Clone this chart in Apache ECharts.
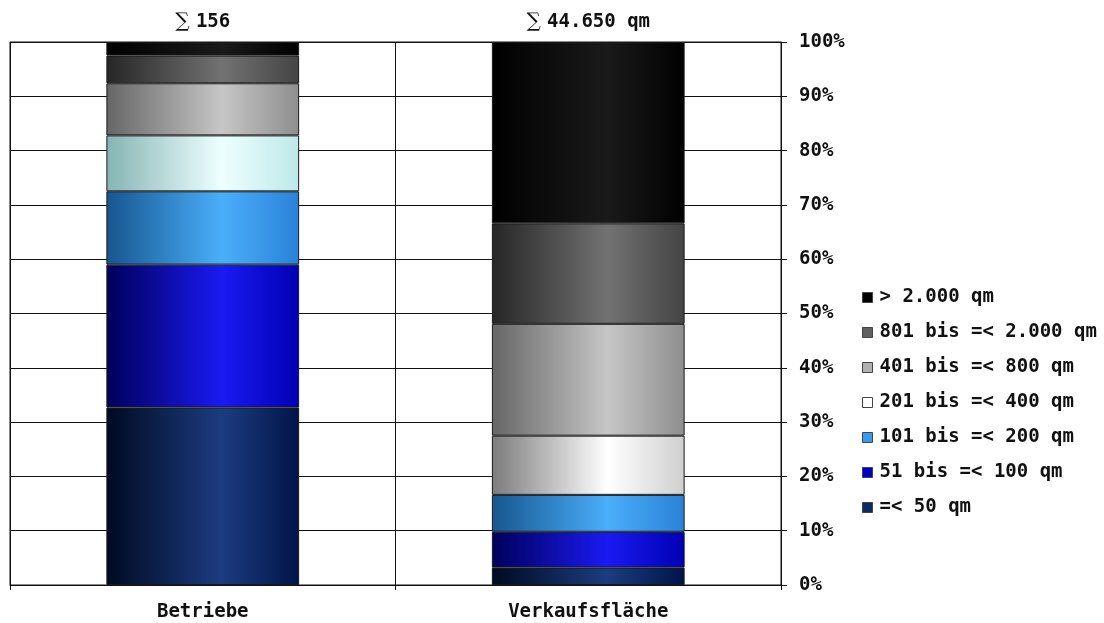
<!DOCTYPE html>
<html>
<head>
<meta charset="utf-8">
<script src="https://cdn.jsdelivr.net/npm/echarts@6/dist/echarts.min.js"></script>
<style>
html,body{margin:0;padding:0;background:#fff;}
#c{width:1104px;height:623px;}
</style>
</head>
<body>
<div id="c"></div>
<script>
var categories = ['Betriebe', 'Verkaufsfläche'];
var totals = ['156', '44.650 qm'];
var classes = ['=< 50 qm', '51 bis =< 100 qm', '101 bis =< 200 qm', '201 bis =< 400 qm', '401 bis =< 800 qm', '801 bis =< 2.000 qm', '> 2.000 qm'];
var betriebe = [32.7, 26.3, 13.5, 10.3, 9.6, 5.1, 2.5];
var verkaufsflaeche = [3.2, 6.6, 6.8, 10.9, 20.6, 18.5, 33.4];
var yTicks = [0, 10, 20, 30, 40, 50, 60, 70, 80, 90, 100];

var legendColors = ['#0d2a66', '#0000c8', '#3a9af0', '#ffffff', '#b0b0b0', '#606060', '#000000'];
// [left shade, highlight, right shade] per class, per category
var shades = [
  [['#000a22', '#1c3c80', '#001448'], ['#000a22', '#1c3c80', '#001448']],
  [['#00005a', '#1a1af2', '#0000b4'], ['#00005a', '#1a1af2', '#0000b4']],
  [['#16568f', '#4aaefa', '#2a82d8'], ['#16568f', '#4aaefa', '#2a82d8']],
  [['#86b4b4', '#eeffff', '#bde8e8'], ['#7c7c7c', '#ffffff', '#cfcfcf']],
  [['#666666', '#c6c6c6', '#8e8e8e'], ['#666666', '#c6c6c6', '#8e8e8e']],
  [['#262626', '#727272', '#444444'], ['#262626', '#727272', '#444444']],
  [['#000000', '#1a1a1a', '#000000'], ['#000000', '#1a1a1a', '#000000']]
];

function grad(s) {
  return new echarts.graphic.LinearGradient(0, 0, 1, 0, [
    {offset: 0, color: s[0]},
    {offset: 0.6, color: s[1]},
    {offset: 1, color: s[2]}
  ]);
}

var FONT = 'DejaVu Sans Mono';
var series = classes.map(function (name, i) {
  var vals = [betriebe[i], verkaufsflaeche[i]];
  var s = {
    name: name,
    type: 'bar',
    stack: 'total',
    barWidth: '50%',
    data: vals.map(function (v, j) {
      return {value: v, itemStyle: {color: grad(shades[i][j])}};
    }),
    itemStyle: {borderColor: '#1a1a1a', borderWidth: 1},
    emphasis: {disabled: true}
  };
  if (i === classes.length - 1) {
    s.label = {
      show: true,
      position: 'top',
      distance: 10,
      formatter: function (p) { return '{s|∑} {t|' + totals[p.dataIndex] + '}'; },
      rich: {
        s: {fontFamily: 'DejaVu Serif', fontWeight: 'normal', fontSize: 20, color: '#111', padding: [0, 3, 0, 0]},
        t: {fontFamily: FONT, fontWeight: 'bold', fontSize: 19, color: '#111'}
      }
    };
  }
  return s;
});

var chart = echarts.init(document.getElementById('c'));
chart.setOption({
  animation: false,
  backgroundColor: '#fff',
  grid: {left: 10, right: 323, top: 42, bottom: 38, show: true, borderColor: '#111', borderWidth: 1},
  legend: {
    orient: 'vertical',
    left: 857,
    top: 283,
    itemWidth: 10,
    itemHeight: 10,
    itemGap: 16,
    textStyle: {fontFamily: FONT, fontWeight: 'bold', fontSize: 19, color: '#111', padding: [0, 0, 0, 2]},
    data: classes.slice().reverse().map(function (n) {
      var idx = classes.indexOf(n);
      return {name: n, icon: 'rect', itemStyle: {color: legendColors[idx], borderColor: '#444', borderWidth: 1}};
    })
  },
  xAxis: {
    type: 'category',
    data: categories,
    boundaryGap: true,
    axisLine: {show: true, lineStyle: {color: '#111', width: 1}},
    axisTick: {show: true, length: 5, lineStyle: {color: '#111'}},
    splitLine: {show: true, lineStyle: {color: '#111', width: 1}},
    axisLabel: {margin: 18, fontFamily: FONT, fontWeight: 'bold', fontSize: 19, color: '#111'}
  },
  yAxis: {
    type: 'value',
    position: 'right',
    min: yTicks[0],
    max: yTicks[yTicks.length - 1],
    interval: 10,
    axisLine: {show: true, lineStyle: {color: '#111', width: 1}},
    axisTick: {show: true, length: 6, lineStyle: {color: '#111'}},
    splitLine: {show: true, lineStyle: {color: '#111', width: 1}},
    axisLabel: {margin: 18, formatter: '{value}%', fontFamily: FONT, fontWeight: 'bold', fontSize: 19, color: '#111'}
  },
  series: series
});
</script>
</body>
</html>
